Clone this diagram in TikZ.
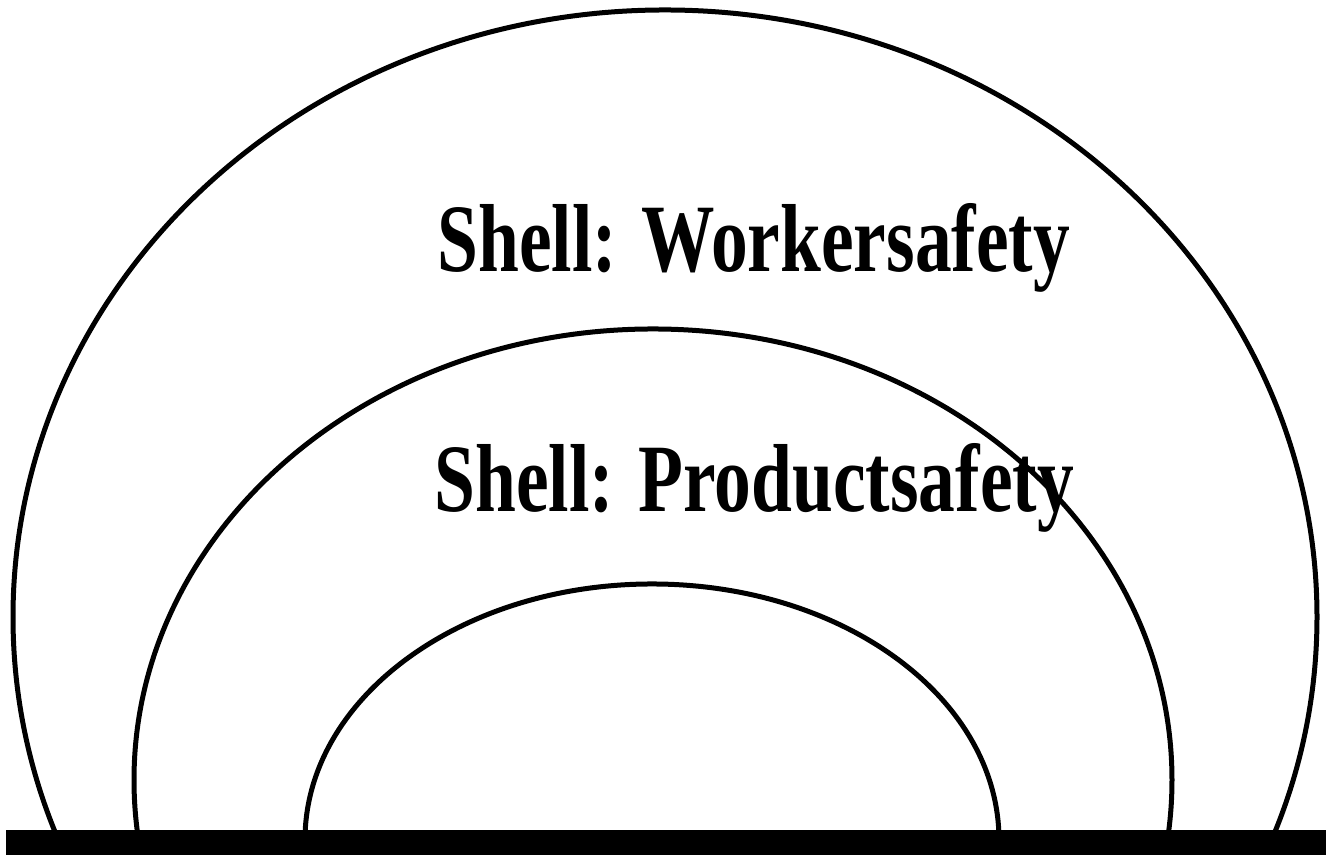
\documentclass[tikz,border=0pt]{standalone}
\usepackage{fontspec}
\setmainfont{Liberation Serif}
\tikzset{
    shell/.style={line width=0.5mm},
    ground/.style={fill=black},
    shelllabel/.style={font=\bfseries\fontsize{27.5}{32}\selectfont, inner sep=0pt, anchor=base west, xscale=0.76, transform shape},
}
\begin{document}
\begin{tikzpicture}[x=0.1mm, y=0.1mm]
\useasboundingbox (0,0) rectangle (1326,855);
% centres of the three shells
\coordinate (outer) at (665,238);
\coordinate (middle) at (653,75);
\coordinate (inner) at (652,15);
\begin{scope}
\clip (0,25) rectangle (1326,855);
\draw[shell] (outer) ellipse [x radius=652, y radius=607];
\draw[shell] (middle) ellipse [x radius=519, y radius=451];
\draw[shell] (inner) ellipse [x radius=347, y radius=256];
\end{scope}
% ground line
\fill[ground] (6,0) rectangle (1326,25);
\node[shelllabel] (worker) at (437,583) {Shell: Workersafety};
\node[shelllabel] (product) at (434,343) {Shell: Productsafety};
\end{tikzpicture}
\end{document}
